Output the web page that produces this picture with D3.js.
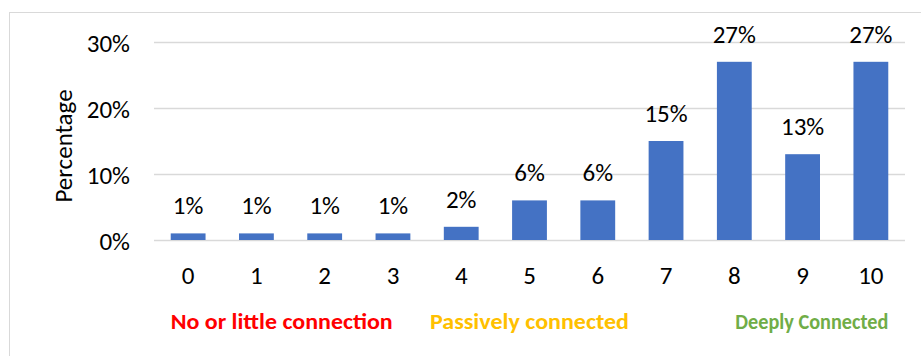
<!DOCTYPE html>
<html>
<head>
<meta charset="utf-8">
<script src="https://cdn.jsdelivr.net/npm/d3@7"></script>
<style>
  html, body { margin: 0; padding: 0; background: #fff; }
  svg { display: block; font-family: Carlito, Calibri, Lato, "Open Sans", sans-serif; }
</style>
</head>
<body>
<svg id="chart" width="921" height="356"></svg>
<script>
// Connection score distribution (0–10)
const categories = ["0", "1", "2", "3", "4", "5", "6", "7", "8", "9", "10"];
const percentages = [1, 1, 1, 1, 2, 6, 6, 15, 27, 13, 27];
const yTicks = [0, 10, 20, 30];

// Group captions below the axis: which categories they refer to and how they align
const groupLabels = ["No or little connection", "Passively connected", "Deeply Connected"];
const groupColors = ["#FF0000", "#FFC000", "#70AD47"];
const groupAnchorCategory = ["0", "5", "10"];
const groupAnchor = ["start", "middle", "end"];
const groupWidths = [222, 199, 153];

const svg = d3.select("#chart");
const W = 921, H = 356;
const plot = { left: 154, right: 905, top: 42, bottom: 240 };
const FONT = 25;

// Chart area frame
svg.append("rect")
  .attr("x", 9.5).attr("y", 12.5)
  .attr("width", W).attr("height", H)
  .attr("fill", "#fff")
  .attr("stroke", "#d9d9d9")
  .attr("stroke-width", 1);

const x = d3.scaleBand()
  .domain(categories)
  .range([plot.left, plot.right])
  .paddingInner(0.49)
  .paddingOuter(0.245);

const y = d3.scaleLinear()
  .domain([0, 30])
  .range([plot.bottom, plot.top]);

// Gridlines
svg.append("g")
  .selectAll("line")
  .data(yTicks)
  .join("line")
  .attr("x1", plot.left).attr("x2", plot.right)
  .attr("y1", d => Math.round(y(d)) + 0.5)
  .attr("y2", d => Math.round(y(d)) + 0.5)
  .attr("stroke", "#d9d9d9")
  .attr("stroke-width", 1.5);

// Y axis tick labels
const yAxis = d3.axisLeft(y)
  .tickValues(yTicks)
  .tickFormat(d => d + "%")
  .tickSize(0)
  .tickPadding(0);
const gy = svg.append("g")
  .attr("transform", `translate(130,0)`)
  .call(yAxis);
gy.select(".domain").remove();
gy.selectAll("text")
  .attr("font-size", FONT)
  .attr("fill", "#000")
  .attr("dy", "0.36em")
  .attr("font-family", "Carlito, Calibri, Lato, sans-serif");

// X axis tick labels
const xAxis = d3.axisBottom(x).tickSize(0).tickPadding(0);
const gx = svg.append("g")
  .attr("transform", `translate(0,${plot.bottom + 44})`)
  .call(xAxis);
gx.select(".domain").remove();
gx.selectAll("text")
  .attr("font-size", FONT)
  .attr("fill", "#000")
  .attr("dy", 0)
  .attr("font-family", "Carlito, Calibri, Lato, sans-serif");

// Bars
svg.append("g")
  .selectAll("rect")
  .data(percentages)
  .join("rect")
  .attr("x", (d, i) => x(categories[i]))
  .attr("width", x.bandwidth())
  .attr("y", d => y(d))
  .attr("height", d => y(0) - y(d))
  .attr("fill", "#4472C4");

// Value labels above bars
svg.append("g")
  .selectAll("text")
  .data(percentages)
  .join("text")
  .attr("x", (d, i) => x(categories[i]) + x.bandwidth() / 2)
  .attr("y", d => y(d) - 19)
  .attr("text-anchor", "middle")
  .attr("font-size", FONT)
  .attr("fill", "#000")
  .text(d => d + "%");

// Y axis title
svg.append("text")
  .attr("transform", `translate(72,146) rotate(-90)`)
  .attr("text-anchor", "middle")
  .attr("font-size", FONT)
  .attr("fill", "#000")
  .text("Percentage");

// Group captions
svg.append("g")
  .selectAll("text")
  .data(groupLabels)
  .join("text")
  .attr("x", (d, i) => {
    const c = groupAnchorCategory[i];
    if (groupAnchor[i] === "start") return x(c);
    if (groupAnchor[i] === "end") return x(c) + x.bandwidth();
    return x(c) + x.bandwidth() / 2;
  })
  .attr("y", 329)
  .attr("text-anchor", (d, i) => groupAnchor[i])
  .attr("font-size", 22)
  .attr("font-weight", "bold")
  .attr("fill", (d, i) => groupColors[i])
  .attr("textLength", (d, i) => groupWidths[i])
  .attr("lengthAdjust", "spacingAndGlyphs")
  .text(d => d);
</script>
</body>
</html>
